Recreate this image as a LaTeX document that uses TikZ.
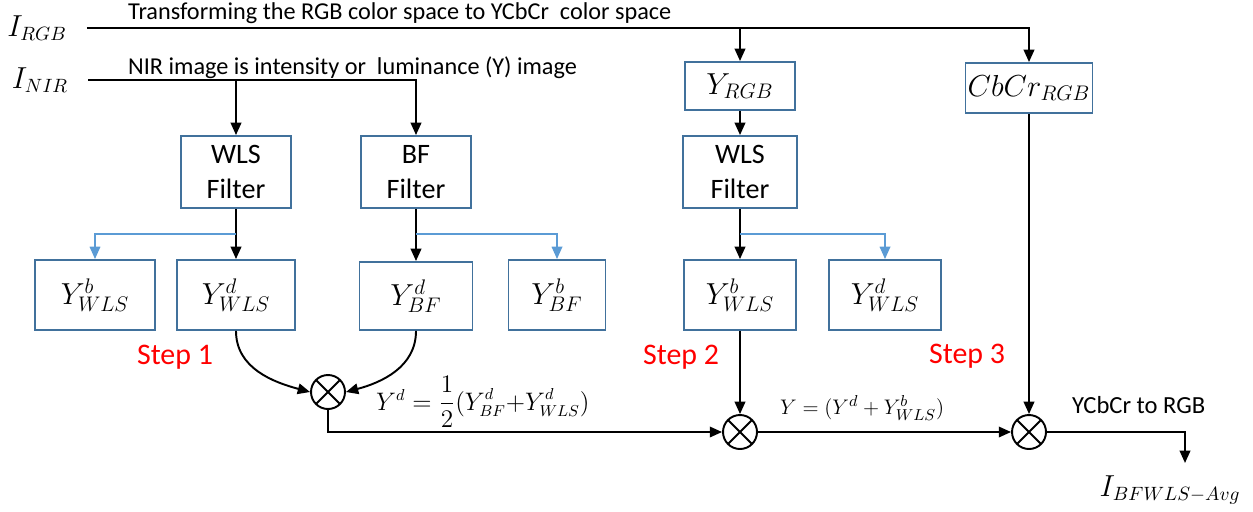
\documentclass[tikz,border=0pt]{standalone}
\usepackage{fontspec}
\setmainfont{Carlito}
\usetikzlibrary{arrows.meta,positioning}
\definecolor{borde}{HTML}{41719C}
\definecolor{rama}{HTML}{5B9BD5}
\begin{document}
\begin{tikzpicture}[x={(0.02cm,0)}, y={(0,-0.02cm)},
    bloque/.style={draw=borde, line width=1.1pt, inner sep=0pt, align=center,
      font=\fontsize{16}{20}\selectfont},
    capa/.style={bloque, font=\fontsize{18}{22}\selectfont},
    suma/.style={circle, draw, line width=1.1pt, minimum size=0.68cm, inner sep=0pt,
      path picture={\draw[line width=1.1pt] (path picture bounding box.north west) -- (path picture bounding box.south east)
        (path picture bounding box.north east) -- (path picture bounding box.south west);}},
    flecha/.style={-{Triangle[length=7pt,width=6pt]}, line width=1.1pt},
    azul/.style={-{Triangle[length=7pt,width=6pt]}, draw=rama, line width=0.9pt, color=rama},
    paso/.style={text=red, font=\fontsize{17}{20}\selectfont},
    entrada/.style={font=\fontsize{16}{20}\selectfont},
    nota/.style={font=\fontsize{13.8}{16}\selectfont}]
  \useasboundingbox (0,0) rectangle (1253,511);

  % Entradas
  \node[entrada] (irgb) at (37,28) {$I_{RGB}$};
  \node[entrada] (inir) at (40,80) {$I_{NIR}$};
  \node[anchor=base west, nota] (ttrans) at (122,19)
    {Transforming the RGB color space to YCbCr~ color space};
  \node[anchor=base west, nota] (tnir) at (122,74)
    {NIR image is intensity or~ luminance (Y) image};

  % Bloques de filtrado
  \node[bloque, minimum width=2.2cm, minimum height=1.44cm] (wls1) at (236,172) {WLS\\Filter};
  \node[bloque, minimum width=2.2cm, minimum height=1.44cm] (bf) at (416,172) {BF\\Filter};
  \node[capa, minimum width=2.2cm, minimum height=0.96cm] (yrgb) at (740,86) {$Y_{RGB}$};
  \node[bloque, minimum width=2.28cm, minimum height=1.44cm] (wls2) at (740,172) {WLS\\Filter};
  \node[capa, minimum width=2.54cm, minimum height=1.0cm] (cbcr) at (1029,88) {$CbCr_{RGB}$};

  % Capas base y detalle
  \node[capa, minimum width=2.4cm, minimum height=1.4cm] (ybwls1) at (95,295) {$Y^b_{WLS}$};
  \node[capa, minimum width=2.36cm, minimum height=1.4cm] (ydwls1) at (236,295) {$Y^d_{WLS}$};
  \node[capa, minimum width=2.26cm, minimum height=1.36cm] (ydbf) at (416,296) {$Y^d_{BF}$};
  \node[capa, minimum width=1.94cm, minimum height=1.4cm] (ybbf) at (557,295) {$Y^b_{BF}$};
  \node[capa, minimum width=2.24cm, minimum height=1.4cm] (ybwls2) at (740,295) {$Y^b_{WLS}$};
  \node[capa, minimum width=2.24cm, minimum height=1.4cm] (ydwls2) at (885,295) {$Y^d_{WLS}$};

  % Sumadores
  \node[suma] (c1) at (328,392) {};
  \node[suma] (c2) at (740,432) {};
  \node[suma] (c3) at (1029,432) {};
  \coordinate (fin) at (1185,463);

  % Flechas de entrada
  \draw[flecha] ([xshift=8pt]irgb.east) -| (cbcr.north);
  \draw[flecha] (yrgb.north |- irgb.east) -- (yrgb.north);
  \draw[flecha] ([xshift=8pt]inir.east) -| (bf.north);
  \draw[flecha] (wls1.north |- inir.east) -- (wls1.north);
  \draw[flecha] (yrgb) -- (wls2);

  % Salidas de los filtros
  \draw[flecha] (wls1) -- (ydwls1);
  \draw[azul] (wls1.south |- 0,234) -| (ybwls1.north);
  \draw[flecha] (bf) -- (ydbf);
  \draw[azul] (bf.south |- 0,234) -| (ybbf.north);
  \draw[flecha] (wls2) -- (ybwls2);
  \draw[azul] (wls2.south |- 0,234) -| (ydwls2.north);

  % Combinacion
  \draw[flecha] (ydwls1.south) to[out=-90, in=165] (c1.west);
  \draw[flecha] (ydbf.south) to[out=-90, in=15] (c1.east);
  \draw[flecha] (c1.south) |- (c2.west);
  \draw[flecha] (ybwls2) -- (c2);
  \draw[flecha] (c2) -- (c3);
  \draw[flecha] (cbcr) -- (c3);
  \draw[flecha] (c3.east) -| (fin);

  % Etiquetas
  \node[paso] (paso1) at (175,357) {Step 1};
  \node[paso] (paso2) at (681,357) {Step 2};
  \node[paso] (paso3) at (967,356) {Step 3};
  \node[anchor=west, font=\fontsize{13.5}{16}\selectfont] (ec1) at (370,402)
    {$Y^d=\displaystyle\frac{1}{2}(Y^d_{BF}{+}Y^d_{WLS})$};
  \node[anchor=west, font=\fontsize{13}{15}\selectfont, inner sep=1pt] (ec2) at (778,408) {$Y=(Y^d+Y^b_{WLS})$};
  \node[anchor=west, font=\fontsize{14}{17}\selectfont] (cambio) at (1066,405) {YCbCr to RGB};
  \node[entrada] (iout) at (1170,490) {$I_{BFWLS-Avg}$};
\end{tikzpicture}
\end{document}
